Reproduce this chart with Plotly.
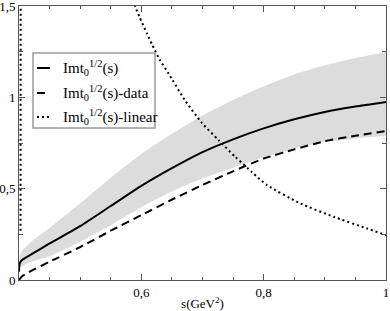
import plotly.graph_objects as go

# ---- data ----
s_vals = [0.4, 0.401, 0.405, 0.42, 0.45, 0.5, 0.55, 0.6, 0.65, 0.7, 0.75, 0.8, 0.85, 0.9, 0.95, 1.0]
imt_solid = [0.045, 0.09, 0.11, 0.14, 0.20, 0.295, 0.405, 0.515, 0.612, 0.70, 0.77, 0.83, 0.88, 0.92, 0.95, 0.975]
band_upper = [0.09, 0.13, 0.16, 0.21, 0.285, 0.42, 0.56, 0.69, 0.80, 0.90, 0.985, 1.06, 1.125, 1.175, 1.215, 1.248]
band_lower = [0.04, 0.06, 0.075, 0.10, 0.13, 0.21, 0.30, 0.40, 0.485, 0.556, 0.615, 0.67, 0.72, 0.755, 0.775, 0.79]

s_data = [0.4, 0.405, 0.42, 0.45, 0.5, 0.55, 0.6, 0.65, 0.7, 0.75, 0.8, 0.85, 0.9, 0.95, 1.0]
imt_data = [0.0, 0.02, 0.05, 0.10, 0.18, 0.27, 0.355, 0.44, 0.52, 0.595, 0.665, 0.715, 0.76, 0.79, 0.815]

s_lin = [0.4025, 0.4028, None, 0.586, 0.590, 0.597, 0.609, 0.6175, 0.630, 0.6446, 0.672, 0.699,
         0.7264, 0.7537, 0.781, 0.8056, 0.860, 0.9145, 0.969, 1.0]
imt_lin = [0.27, 1.6, None, 1.56, 1.497, 1.44, 1.35, 1.29, 1.206, 1.13, 0.98, 0.86,
           0.765, 0.674, 0.59, 0.519, 0.419, 0.346, 0.282, 0.246]

x_ticks = [0.6, 0.8, 1.0]
y_ticks = [0, 0.5, 1, 1.5]
legend_labels = ["Imt<sub>0</sub><sup>1/2</sup>(s)",
                 "Imt<sub>0</sub><sup>1/2</sup>(s)-data",
                 "Imt<sub>0</sub><sup>1/2</sup>(s)-linear"]
legend_dash = ["solid", "8px,5px", "2px,3px"]

SERIF = "Liberation Serif"
AX = "#555555"

fig = go.Figure()
fig.add_trace(go.Scatter(x=s_vals, y=band_lower, mode="lines", line=dict(width=0, shape="spline", smoothing=0.5),
                         showlegend=False, hoverinfo="skip"))
fig.add_trace(go.Scatter(x=s_vals, y=band_upper, mode="lines", line=dict(width=0, shape="spline", smoothing=0.5),
                         fill="tonexty", fillcolor="#dcdcdc", showlegend=False, hoverinfo="skip"))
fig.add_trace(go.Scatter(x=s_lin, y=imt_lin, mode="lines", connectgaps=False,
                         line=dict(color="black", width=2, dash=legend_dash[2], shape="spline", smoothing=0.5),
                         showlegend=False))
fig.add_trace(go.Scatter(x=s_data, y=imt_data, mode="lines",
                         line=dict(color="black", width=2, dash=legend_dash[1], shape="spline", smoothing=0.5),
                         showlegend=False))
fig.add_trace(go.Scatter(x=s_vals, y=imt_solid, mode="lines",
                         line=dict(color="black", width=2, shape="spline", smoothing=0.5),
                         showlegend=False))

# ---- manual legend ----
W, H, L, R, T, B = 390, 311, 19, 4, 6, 31
pw, ph = W - L - R, H - T - B
def px(xp):
    return (xp - L) / pw
def py(yp):
    return (H - B - yp) / ph

fig.add_shape(type="rect", xref="paper", yref="paper", x0=px(33), x1=px(155), y0=py(128), y1=py(53),
              line=dict(color="#9a9a9a", width=1.5), fillcolor="white", layer="above")
rows = [68, 93, 117]
for lab, dsh, ry in zip(legend_labels, legend_dash, rows):
    fig.add_shape(type="line", xref="paper", yref="paper", x0=px(37), x1=px(50), y0=py(ry), y1=py(ry),
                  line=dict(color="black", width=2, dash=dsh), layer="above")
    fig.add_annotation(xref="paper", yref="paper", x=px(61), y=py(ry), text=lab, showarrow=False,
                       xanchor="left", yanchor="middle", font=dict(family=SERIF, size=15, color="black"))

tickfont = dict(family=SERIF, size=13, color="black")
common = dict(showline=True, linecolor=AX, linewidth=1, ticks="inside", tickcolor=AX,
              showgrid=False, zeroline=False, tickfont=tickfont, automargin=False)
fig.update_layout(
    width=W, height=H, margin=dict(l=L, r=R, t=T, b=B, autoexpand=False),
    plot_bgcolor="white", paper_bgcolor="white", separators=", ",
    font=dict(family=SERIF, color="black"),
    xaxis=dict(range=[0.4, 1.0], tickvals=x_ticks, ticklen=6, ticklabeloverflow="allow",
               minor=dict(dtick=0.05, tick0=0.4, ticks="inside", ticklen=3, tickcolor=AX),
               title=dict(text="s(GeV<sup>2</sup>)", font=dict(family=SERIF, size=13, color="black"), standoff=2),
               **common),
    yaxis=dict(range=[0, 1.5], tickvals=y_ticks, ticklen=6, ticklabeloverflow="allow",
               minor=dict(dtick=0.25, tick0=0, ticks="inside", ticklen=4, tickcolor=AX),
               **common),
    xaxis2=dict(overlaying="x", side="top", range=[0.4, 1.0], tickvals=x_ticks, ticklen=6,
                showticklabels=False,
                minor=dict(dtick=0.05, tick0=0.4, ticks="inside", ticklen=3, tickcolor=AX),
                **common),
    yaxis2=dict(overlaying="y", side="right", range=[0, 1.5], tickvals=y_ticks, ticklen=6,
                showticklabels=False,
                minor=dict(dtick=0.25, tick0=0, ticks="inside", ticklen=4, tickcolor=AX),
                **common),
)
# invisible carrier so the mirrored axes are drawn
fig.add_trace(go.Scatter(x=[0.4], y=[0], xaxis="x2", yaxis="y2", mode="markers",
                         marker=dict(size=1, opacity=0), showlegend=False, hoverinfo="skip"))
fig.write_html("out.html", config={"displayModeBar": False},
               post_script="document.body.style.margin='0';document.body.style.overflow='hidden';")
